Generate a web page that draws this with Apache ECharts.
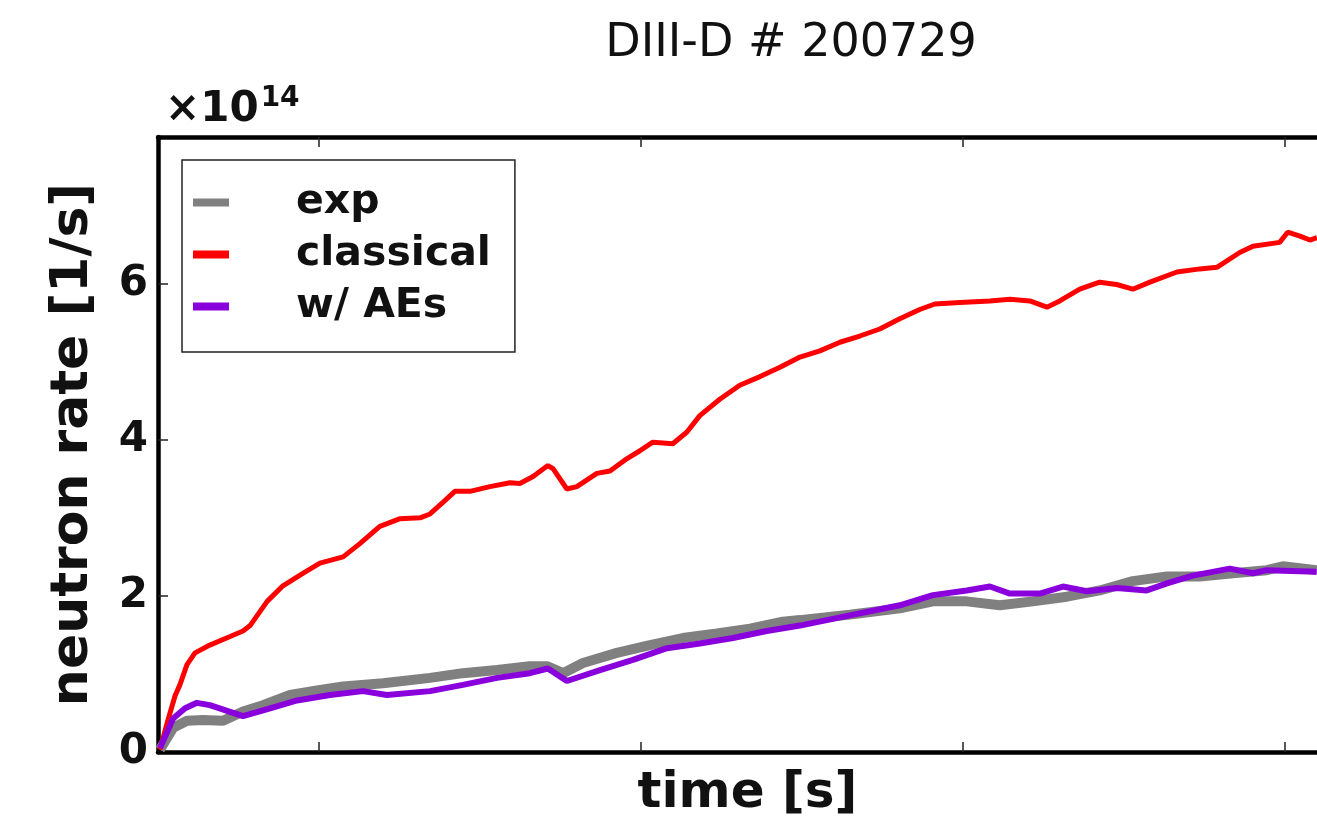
<!DOCTYPE html>
<html>
<head>
<meta charset="utf-8">
<script src="https://cdn.jsdelivr.net/npm/echarts@6/dist/echarts.min.js"></script>
<style>
  html, body { margin: 0; padding: 0; background: #fff; }
  #chart { width: 1317px; height: 824px; }
</style>
</head>
<body>
<div id="chart"></div>
<script>
// Neutron rate for DIII-D shot 200729 (units of 1e14 per second)
const expTime = [0.006, 0.047, 0.090, 0.140, 0.202, 0.264, 0.326, 0.410, 0.494, 0.575, 0.699, 0.845, 0.947, 1.053, 1.155, 1.208, 1.258, 1.320, 1.425, 1.528, 1.630, 1.736, 1.839, 1.941, 1.994, 2.149, 2.304, 2.407, 2.512, 2.615, 2.717, 2.823, 2.925, 3.028, 3.134, 3.236, 3.339, 3.444, 3.494, 3.599];
const expRate = [0.03, 0.31, 0.40, 0.41, 0.40, 0.52, 0.60, 0.73, 0.79, 0.84, 0.88, 0.95, 1.01, 1.05, 1.10, 1.10, 1.01, 1.14, 1.27, 1.37, 1.46, 1.52, 1.58, 1.67, 1.69, 1.76, 1.84, 1.93, 1.93, 1.88, 1.93, 1.99, 2.07, 2.19, 2.25, 2.25, 2.29, 2.33, 2.38, 2.33];

const classicalTime = [0.006, 0.031, 0.053, 0.068, 0.090, 0.115, 0.161, 0.224, 0.264, 0.286, 0.339, 0.388, 0.450, 0.503, 0.575, 0.627, 0.689, 0.752, 0.814, 0.845, 0.891, 0.922, 0.969, 1.031, 1.093, 1.124, 1.165, 1.211, 1.227, 1.270, 1.301, 1.363, 1.404, 1.457, 1.497, 1.537, 1.599, 1.643, 1.683, 1.745, 1.807, 1.870, 1.932, 1.994, 2.056, 2.118, 2.180, 2.242, 2.304, 2.366, 2.413, 2.491, 2.584, 2.646, 2.708, 2.761, 2.801, 2.863, 2.925, 2.978, 3.028, 3.081, 3.165, 3.236, 3.289, 3.360, 3.401, 3.484, 3.509, 3.547, 3.578, 3.600];
const classicalRate = [0.03, 0.41, 0.72, 0.86, 1.12, 1.27, 1.37, 1.48, 1.55, 1.62, 1.93, 2.13, 2.29, 2.42, 2.50, 2.67, 2.89, 2.99, 3.00, 3.05, 3.22, 3.34, 3.34, 3.40, 3.45, 3.44, 3.53, 3.67, 3.63, 3.37, 3.40, 3.57, 3.60, 3.76, 3.86, 3.97, 3.95, 4.10, 4.31, 4.52, 4.70, 4.81, 4.93, 5.06, 5.14, 5.25, 5.33, 5.42, 5.55, 5.67, 5.74, 5.76, 5.78, 5.80, 5.78, 5.70, 5.78, 5.93, 6.02, 5.99, 5.93, 6.02, 6.15, 6.19, 6.21, 6.40, 6.48, 6.53, 6.66, 6.61, 6.56, 6.59];

const aeTime = [0.006, 0.047, 0.084, 0.121, 0.161, 0.264, 0.348, 0.432, 0.534, 0.637, 0.711, 0.845, 0.947, 1.053, 1.155, 1.211, 1.270, 1.373, 1.475, 1.581, 1.683, 1.786, 1.891, 1.994, 2.149, 2.304, 2.407, 2.512, 2.584, 2.646, 2.739, 2.811, 2.885, 2.978, 3.071, 3.134, 3.214, 3.329, 3.401, 3.444, 3.599];
const aeRate = [0.05, 0.43, 0.56, 0.63, 0.60, 0.46, 0.56, 0.66, 0.73, 0.78, 0.73, 0.78, 0.86, 0.95, 1.01, 1.07, 0.91, 1.05, 1.18, 1.33, 1.39, 1.46, 1.55, 1.62, 1.75, 1.88, 2.01, 2.07, 2.12, 2.03, 2.03, 2.12, 2.06, 2.10, 2.07, 2.16, 2.26, 2.35, 2.29, 2.33, 2.31];

const timeTicks = [0.5, 1.5, 2.5, 3.5];
const rateTicks = [0, 2, 4, 6];

const pairs = (t, v) => t.map((x, i) => [x, v[i]]);

const FONT = 'DejaVu Sans';
const chart = echarts.init(document.getElementById('chart'), null, { renderer: 'canvas' });

const tickStyle = { show: true, inside: true, length: 10, lineStyle: { color: '#222', width: 1.5 } };
const frameLine = { show: true, onZero: false, lineStyle: { color: '#000', width: 4.5 } };

chart.setOption({
  animation: false,
  backgroundColor: '#fff',
  title: [
    {
      text: 'DIII-D # 200729',
      left: 786, top: 16, textAlign: 'center',
      textStyle: { fontFamily: FONT, fontSize: 46, fontWeight: 'normal', color: '#111' }
    },
    {
      text: '{m|×10}{s|14}',
      left: 160, top: 80,
      textStyle: {
        rich: {
          m: { fontFamily: FONT, fontSize: 42, fontWeight: 'bold', color: '#111', lineHeight: 46, verticalAlign: 'bottom' },
          s: { fontFamily: FONT, fontSize: 28, fontWeight: 'bold', color: '#111', lineHeight: 46, verticalAlign: 'top', padding: [0, 0, 20, 2] }
        }
      }
    }
  ],
  grid: {
    left: 158, top: 137, right: 0, bottom: 70
  },
  legend: {
    orient: 'vertical',
    left: 182, top: 160,
    padding: [22, 24, 25, 11],
    itemGap: 11,
    itemWidth: 36, itemHeight: 8,
    icon: 'rect',
    borderColor: '#222', borderWidth: 1.5, borderRadius: 0,
    backgroundColor: '#fff',
    data: ['exp', 'classical', 'w/ AEs'],
    formatter: name => '{g|}{t|' + name + '}',
    textStyle: {
      rich: {
        g: { width: 62 },
        t: { fontFamily: FONT, fontSize: 41, fontWeight: 'bold', color: '#111' }
      }
    }
  },
  xAxis: [
    {
      type: 'value', position: 'bottom', min: 0, max: 3.6,
      name: 'time [s]', nameLocation: 'middle', nameGap: 17,
      nameTextStyle: { fontFamily: FONT, fontSize: 50, fontWeight: 'bold', color: '#111', verticalAlign: 'top', padding: [0, 0, 0, 20] },
      axisLine: frameLine,
      axisTick: Object.assign({ customValues: timeTicks }, tickStyle),
      axisLabel: { show: false },
      splitLine: { show: false }
    },
    {
      type: 'value', position: 'top', min: 0, max: 3.6,
      axisLine: frameLine,
      axisTick: Object.assign({ customValues: timeTicks }, tickStyle),
      axisLabel: { show: false },
      splitLine: { show: false }
    }
  ],
  yAxis: {
    type: 'value', min: 0, max: 7.88,
    name: 'neutron rate [1/s]', nameLocation: 'middle', nameGap: 59, nameRotate: 90,
    nameTextStyle: { fontFamily: FONT, fontSize: 52, fontWeight: 'bold', color: '#111' },
    axisLine: frameLine,
    axisTick: Object.assign({ customValues: [2, 4, 6] }, tickStyle),
    axisLabel: {
      customValues: rateTicks, margin: 10,
      fontFamily: FONT, fontSize: 42, fontWeight: 'bold', color: '#111',
      padding: [0, 0, 10, 0]
    },
    splitLine: { show: false }
  },
  series: [
    {
      name: 'exp', type: 'line', data: pairs(expTime, expRate),
      showSymbol: false, symbol: 'none', color: '#808080',
      lineStyle: { color: '#808080', width: 10 }, z: 2
    },
    {
      name: 'classical', type: 'line', data: pairs(classicalTime, classicalRate),
      showSymbol: false, symbol: 'none', color: '#ff0000',
      lineStyle: { color: '#ff0000', width: 5 }, z: 3
    },
    {
      name: 'w/ AEs', type: 'line', data: pairs(aeTime, aeRate),
      showSymbol: false, symbol: 'none', color: '#8a00dc',
      lineStyle: { color: '#8a00dc', width: 6 }, z: 4
    }
  ]
});
</script>
</body>
</html>
